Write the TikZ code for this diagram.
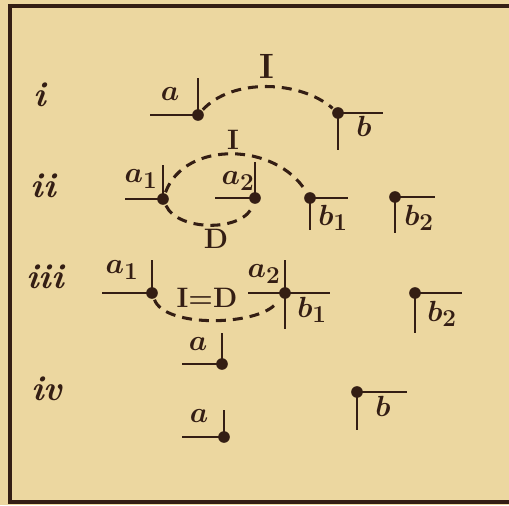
\documentclass[tikz,border=0pt]{standalone}
\usepackage{amsmath}
\usepackage{xcolor}
\definecolor{paper}{RGB}{236,215,160}
\definecolor{ink}{RGB}{52,30,20}

\begin{document}
\begin{tikzpicture}[x=0.3mm, y=-0.3mm, color=ink, line width=2.3pt,
  pt/.style={circle, fill=ink, inner sep=0pt, minimum size=3.5mm},
  lbl/.style={inner sep=0pt, font=\fontsize{30}{32}\selectfont\bfseries\boldmath},
  sml/.style={inner sep=0pt, font=\fontsize{24}{26}\selectfont\bfseries\boldmath},
  tag/.style={inner sep=0pt, font=\fontsize{30}{32}\selectfont\bfseries\itshape},
  link/.style={dash pattern=on 3mm off 2.1mm, line width=2.6pt}]
  \useasboundingbox (0,0) rectangle (509,505);
  \fill[paper] (0,0) rectangle (509,505);
  \draw[line width=2.6pt] (520,6) -- (10,6) -- (10,502) -- (520,502);

  % i
  \node[tag] (ti) at (40,95) {i};
  \node[pt] (ia) at (198,115) {};
  \node[pt] (ib) at (338,113) {};
  \node[lbl] (ia-t) at (170,94) {$a$};
  \node[lbl] (ib-t) at (364,126) {$b$};
  \node[lbl] (iI) at (267,66) {I};
  \draw (ia.center) -- ++(-48,0);
  \draw (ia.center) -- ++(0,-37);
  \draw (ib.center) -- ++(45,0);
  \draw (ib.center) -- ++(0,37);
  \draw[link] (ia) .. controls (232,78) and (300,80) .. (ib);

  % ii
  \node[tag] (tii) at (43,186) {ii};
  \node[pt] (iia1) at (163,199) {};
  \node[pt] (iia2) at (255,198) {};
  \node[pt] (iib1) at (310,198) {};
  \node[pt] (iib2) at (395,197) {};
  \node[lbl] (iia1-t) at (141,179) {$a_1$};
  \node[lbl] (iia2-t) at (238,181) {$a_2$};
  \node[lbl] (iib1-t) at (333,218) {$b_1$};
  \node[lbl] (iib2-t) at (419,218) {$b_2$};
  \node[sml] (iiI) at (233,140) {I};
  \node[sml] (iiD) at (216,239) {D};
  \draw (iia1.center) -- ++(-38,0);
  \draw (iia1.center) -- ++(0,-34);
  \draw (iia2.center) -- ++(-40,0);
  \draw (iia2.center) -- ++(0,-36);
  \draw (iib1.center) -- ++(38,0);
  \draw (iib1.center) -- ++(0,32);
  \draw (iib2.center) -- ++(40,0);
  \draw (iib2.center) -- ++(0,36);
  \draw[link] (iia1) .. controls (185,140) and (276,142) .. (iib1);
  \draw[link] (iia1) .. controls (178,232) and (245,232) .. (iia2);

  % iii
  \node[tag] (tiii) at (45,277) {iii};
  \node[pt] (iiia1) at (152,293) {};
  \node[pt] (iiia2) at (285,293) {};
  \node[pt] (iiib2) at (415,293) {};
  \node[lbl] (iiia1-t) at (122,270) {$a_1$};
  \node[lbl] (iiia2-t) at (264,274) {$a_2$};
  \node[lbl] (iiib1-t) at (312,310) {$b_1$};
  \node[lbl] (iiib2-t) at (442,314) {$b_2$};
  \node[sml] (iiiID) at (207,298) {I=D};
  \draw (iiia1.center) -- ++(-50,0);
  \draw (iiia1.center) -- ++(0,-33);
  \draw (iiia2.center) -- ++(-37,0);
  \draw (iiia2.center) -- ++(45,0);
  \draw (iiia2.center) -- ++(0,-33);
  \draw (iiia2.center) -- ++(0,36);
  \draw (iiib2.center) -- ++(47,0);
  \draw (iiib2.center) -- ++(0,40);
  \draw[link, shorten >=2mm] (iiia1) .. controls (165,328) and (257,326) .. (iiia2);

  % iv
  \node[tag] (tiv) at (47,389) {iv};
  \node[pt] (iva) at (222,364) {};
  \node[pt] (ivaa) at (224,437) {};
  \node[pt] (ivb) at (357,392) {};
  \node[lbl] (iva-t) at (198,344) {$a$};
  \node[lbl] (ivaa-t) at (199,416) {$a$};
  \node[lbl] (ivb-t) at (383,406) {$b$};
  \draw (iva.center) -- ++(-40,0);
  \draw (iva.center) -- ++(0,-31);
  \draw (ivaa.center) -- ++(-42,0);
  \draw (ivaa.center) -- ++(0,-27);
  \draw (ivb.center) -- ++(50,0);
  \draw (ivb.center) -- ++(0,38);
\end{tikzpicture}
\end{document}
